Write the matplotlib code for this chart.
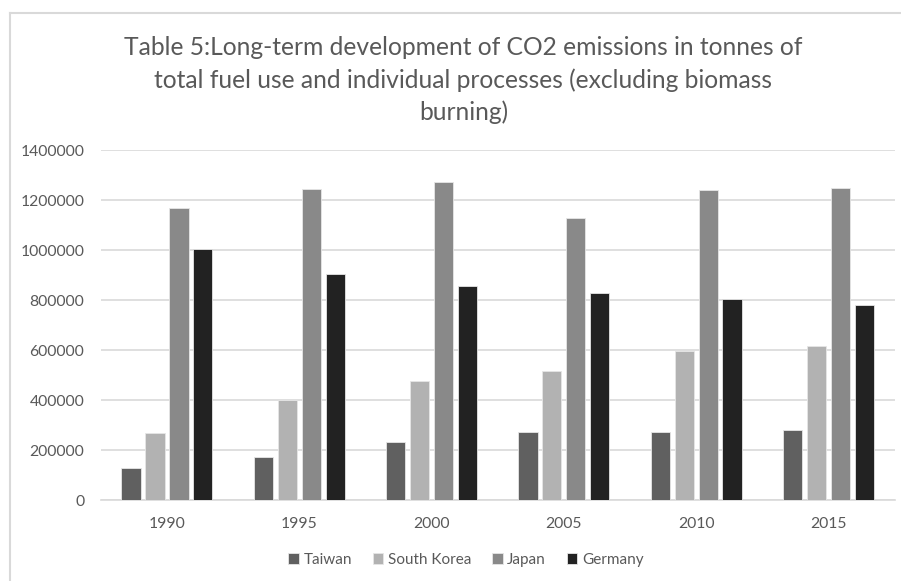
import matplotlib
matplotlib.use("Agg")
import matplotlib.pyplot as plt
from matplotlib.lines import Line2D
import numpy as np

years = ["1990", "1995", "2000", "2005", "2010", "2015"]
countries = ["Taiwan", "South Korea", "Japan", "Germany"]
taiwan = [127000, 172000, 231000, 272000, 272000, 280000]
south_korea = [268000, 400000, 476000, 515000, 596000, 617000]
japan = [1168000, 1243000, 1272000, 1127000, 1239000, 1249000]
germany = [1004000, 904000, 855000, 827000, 803000, 779000]
colors = ["#606060", "#b2b2b2", "#898989", "#222222"]

title = ("Table 5:Long-term development of CO2 emissions in tonnes of\n"
         "total fuel use and individual processes (excluding biomass\n"
         "burning)")

plt.rcParams["font.family"] = ["Lato", "DejaVu Sans"]
text_gray = "#595959"

fig = plt.figure(figsize=(9.01, 5.81), dpi=100)
ax = fig.add_axes([0.1119, 0.1394, 0.881, 0.6024])

x = np.arange(len(years))
width = 0.145
step = 0.181
series = [taiwan, south_korea, japan, germany]
for i, (name, vals, c) in enumerate(zip(countries, series, colors)):
    ax.bar(x + (i - 1.5) * step, vals, width, color=c, edgecolor="#e6e6e6",
           linewidth=0.6, label=name, zorder=3)

ax.set_xlim(-0.5, len(years) - 0.5)
ax.set_ylim(0, 1400000)
ax.set_yticks(np.arange(0, 1400001, 200000))
ax.set_yticklabels([f"{v:d}" for v in range(0, 1400001, 200000)])
ax.set_xticks(x)
ax.set_xticklabels(years)
ax.grid(axis="y", color="#d9d9d9", linewidth=1.2, zorder=0)
ax.tick_params(axis="both", length=0, labelsize=11.3, colors=text_gray)
ax.tick_params(axis="y", pad=12)
ax.tick_params(axis="x", pad=12)
for side in ["left", "right", "top"]:
    ax.spines[side].set_visible(False)
ax.spines["bottom"].set_color("#d9d9d9")
ax.spines["bottom"].set_linewidth(1.2)

fig.text(0.5144, 0.862, title, ha="center", va="center", fontsize=17.7,
         color=text_gray, linespacing=1.46)

leg = fig.legend(loc="center", bbox_to_anchor=(0.517, 0.036), ncol=4,
                 frameon=False, fontsize=11, handlelength=0.7, handleheight=0.7,
                 handletextpad=0.3, columnspacing=1.35)
for t in leg.get_texts():
    t.set_color(text_gray)

# light frame around the chart, visible on the left and top
fig.add_artist(Line2D([10 / 901, 10 / 901], [0, 1 - 12.7 / 581],
                      color="#d9d9d9", linewidth=1.5, transform=fig.transFigure))
fig.add_artist(Line2D([10 / 901, 1], [1 - 12.7 / 581, 1 - 12.7 / 581],
                      color="#d9d9d9", linewidth=1.5, transform=fig.transFigure))

fig.savefig("out.png", dpi=100)
